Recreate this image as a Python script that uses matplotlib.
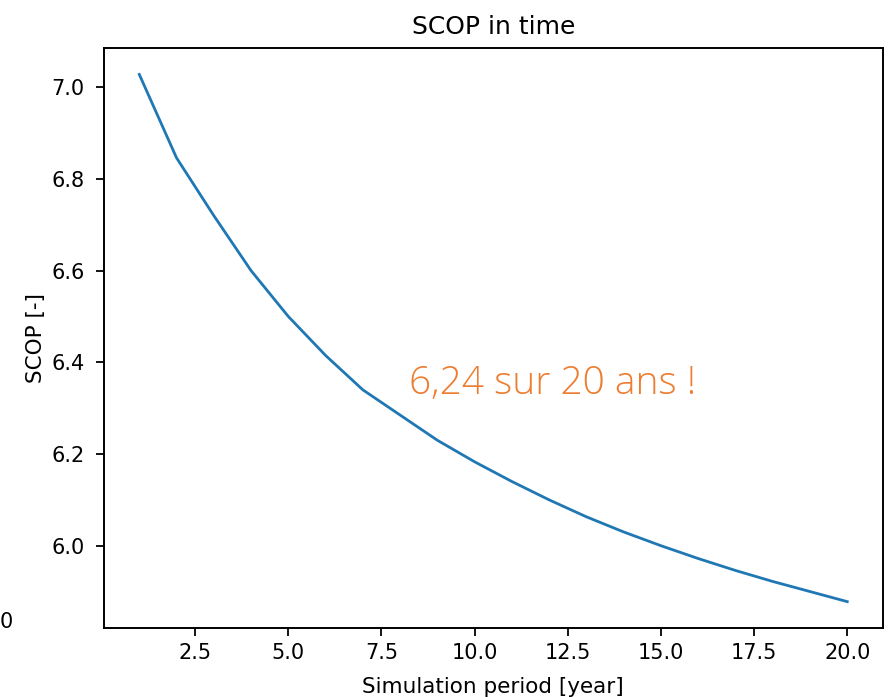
import matplotlib
matplotlib.use('Agg')
import matplotlib.pyplot as plt

# SCOP per year of the simulation
years = list(range(1, 21))
scop = [7.028, 6.846, 6.72, 6.60, 6.50, 6.415, 6.34, 6.285, 6.23, 6.183,
        6.14, 6.10, 6.063, 6.03, 6.0, 5.972, 5.946, 5.922, 5.90, 5.878]
note = '6,24 sur 20 ans !'

fig = plt.figure(figsize=(8.88, 6.97), dpi=100)
ax = fig.add_axes([0.117, 0.099, 0.877, 0.832])

ax.plot(years, scop, color='#1f77b4', linewidth=2.0)
ax.set_title('SCOP in time', fontsize=18, pad=10)
ax.set_xlabel('Simulation period [year]', fontsize=15.5, labelpad=10)
ax.set_ylabel('SCOP [-]', fontsize=15.5, labelpad=4)
ax.tick_params(labelsize=15, length=6, width=1.3)
ax.tick_params(axis='x', pad=5)
ax.tick_params(axis='y', pad=8)
for s in ax.spines.values():
    s.set_linewidth(1.4)

ax.text(8.23, 6.353, note, color='#ED7D31', fontsize=28,
        family='Open Sans', fontweight='light', ha='left', va='center')

# stray tick label from the neighbouring plot at the left edge
fig.text(0.0, 1 - 622 / 697, '0', fontsize=15, va='center', ha='left')

fig.savefig('out.png', dpi=100)
